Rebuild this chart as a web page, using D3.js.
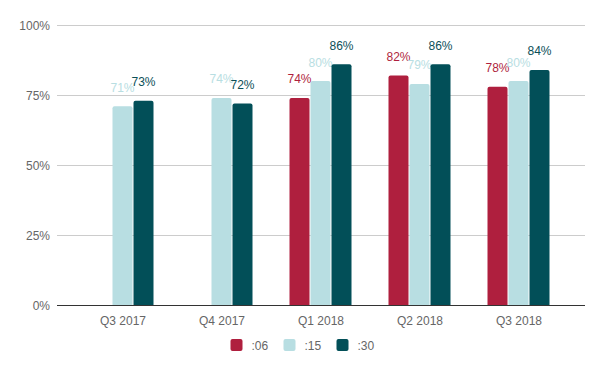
<!DOCTYPE html>
<html><head><meta charset="utf-8">
<script src="https://cdn.jsdelivr.net/npm/d3@7"></script>
<style>body{margin:0;background:#fff}svg{display:block}text{font-family:"Liberation Sans",Arial,sans-serif}</style>
</head><body><svg id="c" width="604" height="371"></svg>
<script>
const categories = ["Q3 2017","Q4 2017","Q1 2018","Q2 2018","Q3 2018"];
const seriesNames = [":06",":15",":30"];
const s06 = [null, null, 74, 82, 78];
const s15 = [71, 74, 80, 79, 80];
const s30 = [73, 72, 86, 86, 84];
const yTicks = [0, 25, 50, 75, 100];
const colors = ["#AF1F3E", "#B8DEE2", "#024F58"];
const labelColors = ["#AF1F3E", "#B8DEE2", "#0B4F58"];
const allSeries = [s06, s15, s30];

const svg = d3.select("#c");
const plotL = 57, plotR = 585, plotT = 25, plotB = 305.5;
const y = d3.scaleLinear().domain([0, 100]).range([plotB, plotT]);
const x0 = d3.scaleBand().domain(categories).range([73.5, 568.5]).padding(0);
const x1 = d3.scaleBand().domain(seriesNames).range([-31.5, 31.5]).padding(0);

// gridlines
svg.append("g").selectAll("line").data(yTicks.filter(t => t > 0)).join("line")
  .attr("x1", plotL).attr("x2", plotR)
  .attr("y1", d => y(d)).attr("y2", d => y(d))
  .attr("stroke", "#cccccc").attr("stroke-width", 1).attr("shape-rendering", "crispEdges");

// y tick labels
svg.append("g").selectAll("text").data(yTicks).join("text")
  .attr("x", 50).attr("y", d => y(d) + 4.5)
  .attr("text-anchor", "end").attr("font-size", 12).attr("fill", "#666")
  .text(d => d + "%");

function barPath(x, yTop, w, h, r) {
  r = Math.min(r, h);
  return `M${x},${yTop + h}V${yTop + r}Q${x},${yTop} ${x + r},${yTop}H${x + w - r}Q${x + w},${yTop} ${x + w},${yTop + r}V${yTop + h}Z`;
}

seriesNames.forEach((s, si) => {
  const data = categories.map((c, ci) => ({c, v: allSeries[si][ci]})).filter(d => d.v != null);
  const g = svg.append("g");
  g.selectAll("path").data(data).join("path")
    .attr("d", d => {
      const bx = x0(d.c) + x0.bandwidth() / 2 + x1(s);
      return barPath(bx, y(d.v), x1.bandwidth() - 1, y(0) - y(d.v), 2);
    })
    .attr("fill", colors[si]);
  g.selectAll("text").data(data).join("text")
    .attr("x", d => x0(d.c) + x0.bandwidth() / 2 + x1(s) + (x1.bandwidth() - 1) / 2)
    .attr("y", d => y(d.v) - 14.5)
    .attr("text-anchor", "middle").attr("font-size", 12).attr("fill", labelColors[si])
    .text(d => d.v + "%");
});

// baseline
svg.append("line").attr("x1", plotL).attr("x2", plotR).attr("y1", y(0)).attr("y2", y(0))
  .attr("stroke", "#333").attr("stroke-width", 1).attr("shape-rendering", "crispEdges");

// x labels
svg.append("g").selectAll("text").data(categories).join("text")
  .attr("x", d => x0(d) + x0.bandwidth() / 2).attr("y", 325)
  .attr("text-anchor", "middle").attr("font-size", 12).attr("fill", "#666")
  .text(d => d);

// legend
const legendX = [230.5, 283.5, 336.5];
const lg = svg.append("g").selectAll("g").data(seriesNames).join("g")
  .attr("transform", (d, i) => `translate(${legendX[i]},339)`);
lg.append("rect").attr("width", 12).attr("height", 12).attr("rx", 2).attr("fill", (d, i) => colors[i]);
lg.append("text").attr("x", 21).attr("y", 10.5).attr("font-size", 12).attr("fill", "#666").text(d => d);
</script></body></html>
